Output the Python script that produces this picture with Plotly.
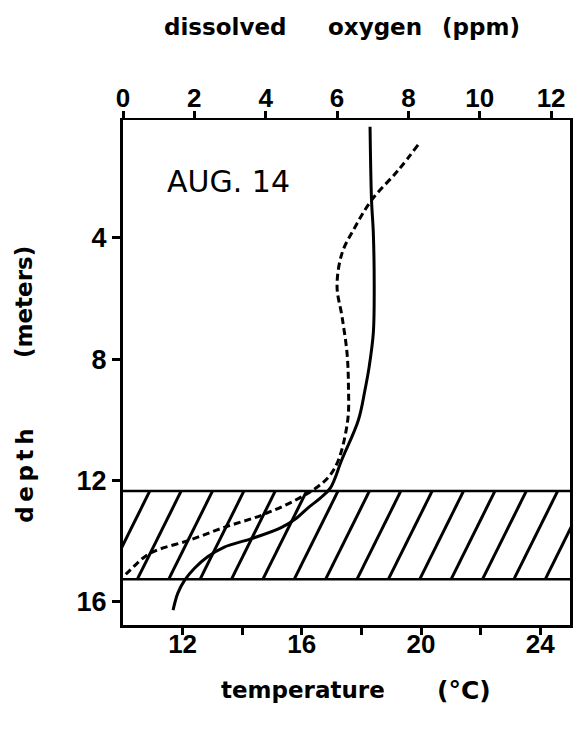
import plotly.graph_objects as go

# ---- data ----
temp_C = [18.29, 18.34, 18.40, 18.43, 18.40, 18.26, 18.12, 17.90, 17.34, 16.96,
          16.63, 16.23, 15.83, 15.29, 14.29, 13.40, 12.84, 12.40, 12.07, 11.84, 11.68]
temp_depth = [0.33, 2.75, 3.83, 5.61, 7.13, 8.25, 9.01, 10.0, 11.32, 12.24,
              12.57, 12.88, 13.23, 13.56, 13.92, 14.19, 14.51, 14.89, 15.28, 15.71, 16.27]

oxy_ppm = [8.27, 7.72, 6.97, 6.51, 6.14, 6.00, 6.14, 6.28, 6.32, 6.30,
           6.04, 5.77, 5.40, 4.84, 3.91, 2.89, 1.87, 0.75, 0.20, 0.06]
oxy_depth = [0.93, 1.76, 2.75, 3.63, 4.50, 5.60, 6.59, 7.80, 8.90, 10.0,
             11.32, 11.87, 12.25, 12.64, 13.13, 13.52, 13.96, 14.40, 14.95, 15.11]

band_depths = [12.34, 15.25]          # hatched layer (top, bottom)
hatch_start_T = 10.9                  # temperature where first hatch line meets band top
hatch_step_T = 1.053
hatch_slant_T = 1.47
hatch_count = 15

temp_ticks = [12, 14, 16, 18, 20, 22, 24]
temp_ticktext = ["12", "", "16", "", "20", "", "24"]
oxy_ticks = [0, 2, 4, 6, 8, 10, 12]
depth_ticks = [4, 8, 12, 16]

fig = go.Figure()

# hatch lines
hx, hy = [], []
for i in range(hatch_count):
    t0 = hatch_start_T + hatch_step_T * i
    hx += [t0, t0 - hatch_slant_T, None]
    hy += [band_depths[0], band_depths[1], None]
fig.add_trace(go.Scatter(x=hx, y=hy, mode="lines", xaxis="x", yaxis="y",
                         line=dict(color="black", width=3), hoverinfo="skip",
                         showlegend=False))
# band boundaries
for d in band_depths:
    fig.add_trace(go.Scatter(x=[10, 25], y=[d, d], mode="lines", xaxis="x", yaxis="y",
                             line=dict(color="black", width=2.5), showlegend=False))

# temperature (solid)
fig.add_trace(go.Scatter(x=temp_C, y=temp_depth, mode="lines", xaxis="x", yaxis="y",
                         line=dict(color="black", width=3, shape="spline", smoothing=1.0),
                         showlegend=False))
# dissolved oxygen (dashed)
fig.add_trace(go.Scatter(x=oxy_ppm, y=oxy_depth, mode="lines", xaxis="x2", yaxis="y",
                         line=dict(color="black", width=3, shape="spline", smoothing=1.0,
                                   dash="7px,4px"),
                         showlegend=False))

tickfont = dict(family="Liberation Sans, Arial, sans-serif", size=26, color="black",
                weight="bold")
title_font = dict(family="DejaVu Sans, sans-serif", size=23, color="black")

fig.update_layout(
    width=576, height=730,
    margin=dict(l=123, r=3, t=120, b=105),
    paper_bgcolor="white", plot_bgcolor="white",
    showlegend=False,
    xaxis=dict(range=[10, 25], tickvals=temp_ticks, ticktext=temp_ticktext,
               ticks="outside", ticklen=7, tickwidth=2.5, tickcolor="black",
               showline=True, linewidth=3, linecolor="black", showgrid=False,
               zeroline=False, tickfont=tickfont, ticklabelstandoff=-13),
    xaxis2=dict(range=[0, 12.53], overlaying="x", side="top", tickvals=oxy_ticks,
                ticks="outside", ticklen=7, tickwidth=2.5, tickcolor="black",
                showline=True, linewidth=2, linecolor="black", showgrid=False,
                zeroline=False, tickfont=tickfont, ticklabelstandoff=-6),
    yaxis=dict(range=[16.76, 0.11], tickvals=depth_ticks, ticks="outside", ticklen=8,
               tickwidth=2.5, tickcolor="black", showline=True, linewidth=3,
               linecolor="black", mirror=True, showgrid=False, zeroline=False,
               tickfont=dict(family="Liberation Sans, Arial, sans-serif", size=27,
                             color="black", weight="bold")),
)

def label(text, x, y, angle=0, font=title_font, bold=True):
    fig.add_annotation(text=("<b>%s</b>" % text) if bold else text, x=x, y=y,
                       xref="paper", yref="paper", showarrow=False, textangle=angle,
                       font=font, xanchor="center", yanchor="middle")

label("dissolved", 0.229, 1.184)
label("oxygen", 0.563, 1.184)
label("(ppm)", 0.80, 1.184)
label("temperature", 0.402, -0.129)
label("(°C)", 0.762, -0.129, font=dict(family="DejaVu Sans, sans-serif", size=25,
                                        color="black"))
label("d\u2009e\u2009p\u2009t\u2009h", -0.22, 0.295, angle=-90)
label("(meters)", -0.22, 0.639, angle=-90)
label("AUG. 14", 0.2356, 0.878,
      font=dict(family="DejaVu Sans, sans-serif", size=30, color="black"),
      bold=False)

fig.write_html("out.html")
